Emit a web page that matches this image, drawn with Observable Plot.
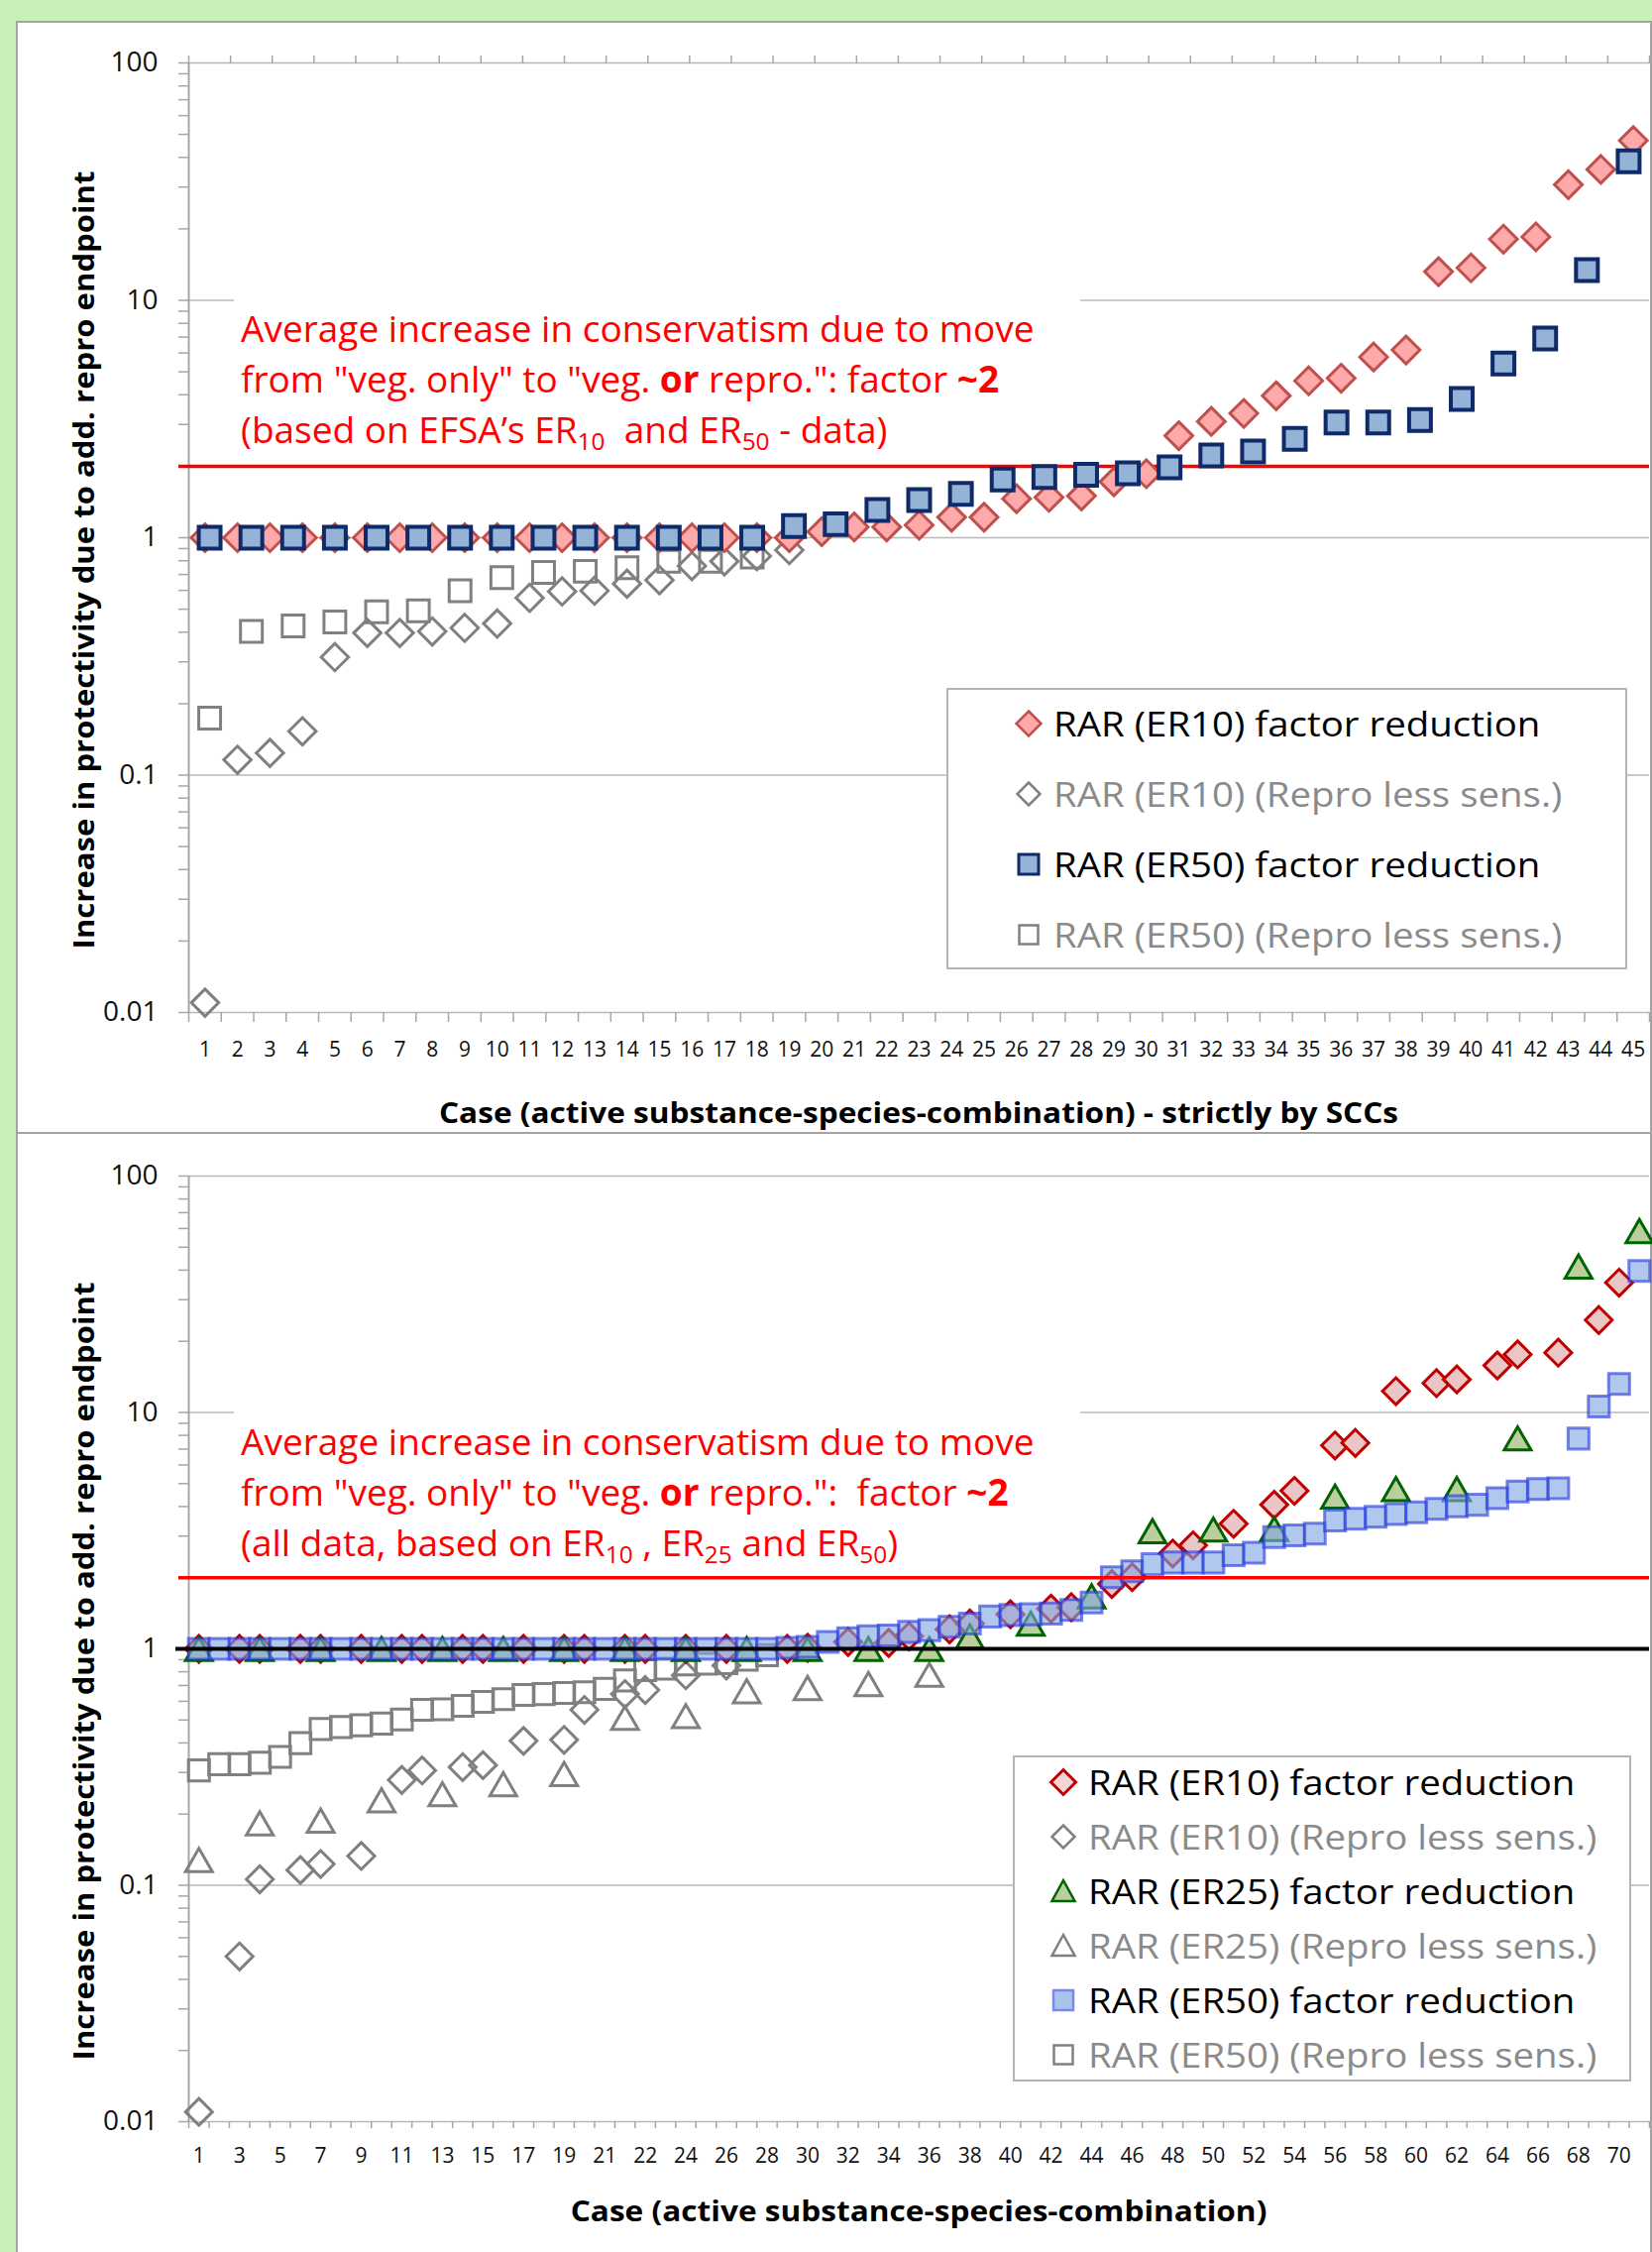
<!DOCTYPE html>
<html><head><meta charset="utf-8">
<script src="https://cdn.jsdelivr.net/npm/d3@7"></script>
<script src="https://cdn.jsdelivr.net/npm/@observablehq/plot@0.6"></script>
<style>
html,body{margin:0;padding:0;}
body{width:1667px;height:2272px;position:relative;overflow:hidden;background:#c8f0b8;font-family:"Open Sans",sans-serif;}
.panel{position:absolute;background:#fff;border:2px solid #a3a3a3;box-sizing:border-box;}
.chart{position:absolute;left:0;}
.note{position:absolute;background:#fff;color:#ff0000;font-size:37px;line-height:51px;white-space:nowrap;box-sizing:border-box;}
.note sub{font-size:0.66em;vertical-align:-0.3em;line-height:0;}
.ytitle{position:absolute;font-weight:bold;font-size:28px;white-space:nowrap;transform:translate(-50%,-50%) rotate(-90deg) scaleX(1.11);}
.xtitle{position:absolute;font-weight:bold;font-size:29px;white-space:nowrap;transform:translate(-50%,-50%) scaleX(1.09);}
.legend{position:absolute;background:#fff;border:2px solid #b4b4b4;box-sizing:border-box;}
.lrow{position:absolute;left:0;height:0;}
.lrow svg{position:absolute;overflow:visible;}
.lrow span{position:absolute;top:0;white-space:nowrap;font-size:34px;line-height:1;transform:translateY(-50%) scaleX(1.13);transform-origin:left center;}
</style></head><body>
<div class="panel" style="left:16px;top:21px;width:1651px;height:1125px"></div>
<div class="panel" style="left:16px;top:1142px;width:1651px;height:1140px"></div>
<div id="top" class="chart" style="top:0"></div>
<div id="bottom" class="chart" style="top:1144px"></div>

<div class="note" style="left:236px;top:300px;width:854px;height:158px;padding:5px 0 0 7px">Average increase in conservatism due to move<br>from "veg. only" to "veg. <b>or</b> repro.": factor <b>~2</b><br>(based on EFSA’s ER<sub>10</sub>&nbsp; and ER<sub>50</sub> - data)</div>
<div class="note" style="left:236px;top:1423px;width:854px;height:158px;padding:5px 0 0 7px">Average increase in conservatism due to move<br>from "veg. only" to "veg. <b>or</b> repro.":&nbsp; factor <b>~2</b><br>(all data, based on ER<sub>10</sub> , ER<sub>25</sub> and ER<sub>50</sub>)</div>

<div class="ytitle" style="left:84px;top:565px">Increase in protectivity due to add. repro endpoint</div>
<div class="ytitle" style="left:84px;top:1686px">Increase in protectivity due to add. repro endpoint</div>
<div class="xtitle" style="left:927px;top:1121px">Case (active substance-species-combination) - strictly by SCCs</div>
<div class="xtitle" style="left:927px;top:2229px">Case (active substance-species-combination)</div>

<div id="legTop" class="legend" style="left:955px;top:694px;width:687px;height:284px"></div>
<div id="legBottom" class="legend" style="left:1022px;top:1771px;width:624px;height:329px"></div>

<script>
// ---------------- data: top chart (strictly by SCCs) ----------------
const caseTop = ["1","2","3","4","5","6","7","8","9","10","11","12","13","14","15","16","17","18","19","20","21","22","23","24","25","26","27","28","29","30","31","32","33","34","35","36","37","38","39","40","41","42","43","44","45"];
const er10FactorTop = [1,1,1,1,1,1,1,1,1,1,1,1,1,1,1,1,1,1,1,1.06,1.11,1.11,1.13,1.22,1.22,1.46,1.48,1.50,1.72,1.86,2.69,3.09,3.34,3.96,4.58,4.70,5.77,6.18,13.2,13.7,18.1,18.5,30.7,35.6,47.1];
const er10ReproTop = [0.011,0.116,0.124,0.153,0.314,0.397,0.397,0.403,0.417,0.435,0.558,0.594,0.598,0.640,0.663,0.760,0.795,0.837,0.887,null,null,null,null,null,null,null,null,null,null,null,null,null,null,null,null,null,null,null,null,null,null,null,null,null,null];
const er50FactorTop = [1,1,1,1,1,1,1,1,1,1,1,1,1,1,1.12,1.14,1.31,1.44,1.53,1.76,1.80,1.84,1.87,1.98,2.22,2.31,2.61,3.06,3.06,3.13,3.84,5.42,6.91,13.4,38.5];
const er50ReproTop = [0.174,0.403,0.425,0.442,0.487,0.492,0.598,0.679,0.715,0.722,0.747,0.795,0.795,0.828,null,null,null,null,null,null,null,null,null,null,null,null,null,null,null,null,null,null,null,null,null];

// ---------------- data: bottom chart (all data) ----------------
const caseBottom = ["1","2","3","4","5","6","7","8","9","10","11","12","13","14","15","16","17","18","19","20","21","21","22","23","24","25","26","27","28","29","30","31","32","33","34","35","36","37","38","39","40","41","42","43","44","45","46","47","48","49","50","51","52","53","54","55","56","57","58","59","60","61","62","63","64","65","66","67","68","69","70","71"];
const er10Factor = [
  1,null,1,1,null,1,1,null,1,null,1,1,
  null,1,1,null,1,null,1,1,null,1,1,null,
  1,null,1,null,null,1.0,1.01,null,1.07,null,1.06,1.13,
  null,1.21,1.28,null,1.40,null,1.48,1.50,null,1.88,2.01,null,
  2.53,2.74,null,3.38,null,4.07,4.66,null,7.25,7.43,null,12.3,
  null,13.3,13.8,null,15.8,17.6,null,17.9,null,24.6,35.4,null];
const er10Repro = [
  0.011,null,0.050,0.106,null,0.116,0.123,null,0.133,null,0.279,0.306,
  null,0.316,0.322,null,0.408,null,0.412,0.552,null,0.644,0.670,null,
  0.773,null,0.85,null,null,null,null,null,null,null,null,null,
  null,null,null,null,null,null,null,null,null,null,null,null,
  null,null,null,null,null,null,null,null,null,null,null,null,
  null,null,null,null,null,null,null,null,null,null,null,null];
const er25Factor = [
  1,null,null,1,null,null,1,null,null,1,null,null,
  1,null,null,1,null,null,1,null,null,1,null,null,
  1,null,null,1,null,null,1,null,null,1,null,null,
  1,null,1.13,null,null,1.28,null,null,1.67,null,null,3.15,
  null,null,3.2,null,null,3.22,null,null,4.41,null,null,4.75,
  null,null,4.75,null,null,7.78,null,null,41.5,null,null,58.6];
const er25Repro = [
  0.128,null,null,0.183,null,null,0.188,null,null,0.229,null,null,
  0.243,null,null,0.268,null,null,0.296,null,null,0.511,null,null,
  0.520,null,null,0.662,null,null,0.684,null,null,0.711,null,null,
  0.778,null,null,null,null,null,null,null,null,null,null,null,
  null,null,null,null,null,null,null,null,null,null,null,null,
  null,null,null,null,null,null,null,null,null,null,null,null];
const er50Factor = [
  1,1,1,1,1,1,1,1,1,1,1,1,
  1,1,1,1,1,1,1,1,1,1,1,1,
  1,1,1,1,1,1.01,1.02,1.07,1.11,1.13,1.14,1.18,
  1.20,1.24,1.28,1.37,1.39,1.40,1.41,1.46,1.57,2.01,2.13,2.28,
  2.32,2.32,2.32,2.49,2.55,2.97,3.02,3.07,3.49,3.55,3.62,3.72,
  3.78,3.91,4.01,4.07,4.34,4.63,4.74,4.78,7.75,10.6,13.2,39.7];
const er50Repro = [
  0.306,0.325,0.325,0.330,0.349,0.399,0.458,0.467,0.475,0.483,0.503,0.552,
  0.555,0.574,0.597,0.613,0.638,0.644,0.651,0.655,0.677,0.735,0.812,0.825,
  0.86,0.865,0.87,0.90,0.94,null,null,null,null,null,null,null,
  null,null,null,null,null,null,null,null,null,null,null,null,
  null,null,null,null,null,null,null,null,null,null,null,null,
  null,null,null,null,null,null,null,null,null,null,null,null];

// ---------------- axis ticks / reference lines ----------------
const yMajor = [0.01, 0.1, 1, 10, 100];
const yMajorLabels = ["0.01", "0.1", "1", "10", "100"];
const yMinor = [0.02,0.03,0.04,0.05,0.06,0.07,0.08,0.09,0.2,0.3,0.4,0.5,0.6,0.7,0.8,0.9,2,3,4,5,6,7,8,9,20,30,40,50,60,70,80,90];
const avgFactor = 2;
const unity = 1;

const legendTopLabels = ["RAR (ER10) factor reduction","RAR (ER10) (Repro less sens.)","RAR (ER50) factor reduction","RAR (ER50) (Repro less sens.)"];
const legendBottomLabels = ["RAR (ER10) factor reduction","RAR (ER10) (Repro less sens.)","RAR (ER25) factor reduction","RAR (ER25) (Repro less sens.)","RAR (ER50) factor reduction","RAR (ER50) (Repro less sens.)"];

// ---------------- helpers ----------------
const pts = arr => arr.map((v, i) => ({pos: (i + 0.5) / arr.length, v})).filter(d => d.v != null);
const bounds = n => d3.range(n + 1).map(k => k / n);
const axisGrey = "#a6a6a6";
const grey = "#808080";
const FONT = "Open Sans";

function yAxisMarks() {
  return [
    Plot.ruleY(yMajor, {stroke: "#b8b8b8", strokeWidth: 1.6}),
    Plot.axisY({ticks: yMinor, tickSize: 10, stroke: axisGrey, strokeWidth: 1.5, fill: "none", label: null}),
    Plot.axisY({ticks: yMajor, tickSize: 10, stroke: axisGrey, strokeWidth: 1.5, fill: "none", label: null}),
    Plot.text(yMajor, {y: d => d, text: (d, i) => yMajorLabels[i], frameAnchor: "left", dx: -31, textAnchor: "end", fontSize: 28, fill: "#111"}),
    Plot.ruleX([0], {stroke: axisGrey, strokeWidth: 2})
  ];
}

// ---------------- top chart ----------------
const topPlot = Plot.plot({
  width: 1667, height: 1144,
  marginLeft: 190, marginRight: 3, marginTop: 63, marginBottom: 123,
  x: {domain: [0, 1]},
  y: {type: "log", domain: [0.01, 100]},
  style: {background: "transparent", overflow: "visible", fontFamily: FONT},
  marks: [
    ...yAxisMarks(),
    Plot.axisX({ticks: bounds(caseTop.length), tickSize: 10, stroke: axisGrey, strokeWidth: 1.5, fill: "none", label: null}),
    Plot.axisX({anchor: "top", ticks: bounds(er50FactorTop.length), tickSize: 8, stroke: axisGrey, strokeWidth: 1.5, fill: "none", label: null}),
    Plot.text(caseTop, {x: (d, i) => (i + 0.5) / caseTop.length, frameAnchor: "bottom", dy: 38, text: d => d, fontSize: 21, lineAnchor: "middle", fill: "#111"}),
    Plot.ruleY([avgFactor], {stroke: "#ff0000", strokeWidth: 3.5, insetLeft: -10}),
    Plot.dot(pts(er10ReproTop), {x: "pos", y: "v", symbol: "diamond2", r: 12.4, fill: "none", stroke: grey, strokeWidth: 3}),
    Plot.dot(pts(er50ReproTop), {x: "pos", y: "v", symbol: "square", r: 12.4, fill: "none", stroke: grey, strokeWidth: 3}),
    Plot.dot(pts(er10FactorTop), {x: "pos", y: "v", symbol: "diamond2", r: 12.6, fill: "#ffaaaa", stroke: "#c0504d", strokeWidth: 3}),
    Plot.dot(pts(er50FactorTop), {x: "pos", y: "v", symbol: "square", r: 12.4, fill: "#95b3d7", stroke: "#0e2a68", strokeWidth: 4})
  ]
});
document.getElementById("top").appendChild(topPlot);

// ---------------- bottom chart ----------------
const botPlot = Plot.plot({
  width: 1667, height: 1128,
  marginLeft: 190, marginRight: 3, marginTop: 42, marginBottom: 132,
  x: {domain: [0, 1]},
  y: {type: "log", domain: [0.01, 100]},
  style: {background: "transparent", overflow: "visible", fontFamily: FONT},
  marks: [
    ...yAxisMarks(),
    Plot.axisX({ticks: bounds(caseBottom.length), tickSize: 7, stroke: axisGrey, strokeWidth: 1.5, fill: "none", label: null}),
    Plot.text(caseBottom, {x: (d, i) => (i + 0.5) / caseBottom.length, filter: (d, i) => i % 2 === 0, frameAnchor: "bottom", dy: 35, text: d => d, fontSize: 21, lineAnchor: "middle", fill: "#111"}),
    Plot.dot(pts(er10Repro), {x: "pos", y: "v", symbol: "diamond2", r: 12.2, fill: "none", stroke: grey, strokeWidth: 3}),
    Plot.dot(pts(er25Repro), {x: "pos", y: "v", symbol: "triangle2", r: 12.9, dy: 4, fill: "none", stroke: grey, strokeWidth: 3}),
    Plot.dot(pts(er50Repro), {x: "pos", y: "v", symbol: "square", r: 11.9, fill: "none", stroke: grey, strokeWidth: 3}),
    Plot.dot(pts(er10Factor), {x: "pos", y: "v", symbol: "diamond2", r: 12.2, fill: "#ebc6c6", stroke: "#c00000", strokeWidth: 3}),
    Plot.dot(pts(er25Factor), {x: "pos", y: "v", symbol: "triangle2", r: 12.9, dy: 4, fill: "#bccd9e", stroke: "#006400", strokeWidth: 3}),
    Plot.dot(pts(er50Factor), {x: "pos", y: "v", symbol: "square", r: 11.9, fill: "#7fa6e3", fillOpacity: 0.62, stroke: "#2233dd", strokeOpacity: 0.6, strokeWidth: 3}),
    Plot.ruleY([unity], {stroke: "#000", strokeWidth: 4, insetLeft: -13}),
    Plot.ruleY([avgFactor], {stroke: "#ff0000", strokeWidth: 3.5, insetLeft: -10})
  ]
});
document.getElementById("bottom").appendChild(botPlot);

// ---------------- legends (HTML) ----------------
const shapes = {
  diamondTop: '<path d="M0,-12.5L12.5,0L0,12.5L-12.5,0Z" fill="#ffaaaa" stroke="#c0504d" stroke-width="2.5"/>',
  diamondGrey: '<path d="M0,-11.5L11.5,0L0,11.5L-11.5,0Z" fill="#fff" stroke="#808080" stroke-width="2.5"/>',
  squareTop: '<rect x="-10" y="-10" width="20" height="20" fill="#95b3d7" stroke="#0e2a68" stroke-width="3"/>',
  squareGrey: '<rect x="-9.5" y="-9.5" width="19" height="19" fill="#fff" stroke="#808080" stroke-width="2.5"/>',
  diamondBot: '<path d="M0,-12.5L12.5,0L0,12.5L-12.5,0Z" fill="#f2d6d6" stroke="#c00000" stroke-width="3"/>',
  triangleBot: '<path d="M0,-11L11.5,10L-11.5,10Z" fill="#bccd9e" stroke="#006400" stroke-width="2.5"/>',
  triangleGrey: '<path d="M0,-11L11.5,10L-11.5,10Z" fill="#fff" stroke="#808080" stroke-width="2.5"/>',
  squareBot: '<rect x="-10" y="-10" width="20" height="20" fill="#a9c4eb" stroke="#7b86ee" stroke-width="2.5"/>'
};
function buildLegend(id, labels, shapeKeys, colors, rowTop, rowGap, markerX, textX) {
  const el = document.getElementById(id);
  labels.forEach((lab, k) => {
    const row = document.createElement("div");
    row.className = "lrow";
    row.style.top = (rowTop + k * rowGap) + "px";
    row.innerHTML = `<svg width="1" height="1" style="left:${markerX}px;top:0">${shapes[shapeKeys[k]]}</svg><span style="left:${textX}px;color:${colors[k]}">${lab}</span>`;
    el.appendChild(row);
  });
}
buildLegend("legTop", legendTopLabels, ["diamondTop","diamondGrey","squareTop","squareGrey"], ["#000","#8a8a8a","#000","#8a8a8a"], 34, 71, 81, 106);
buildLegend("legBottom", legendBottomLabels, ["diamondBot","diamondGrey","triangleBot","triangleGrey","squareBot","squareGrey"], ["#000","#8a8a8a","#000","#8a8a8a","#000","#8a8a8a"], 25, 55, 49, 74);
</script>
</body></html>
